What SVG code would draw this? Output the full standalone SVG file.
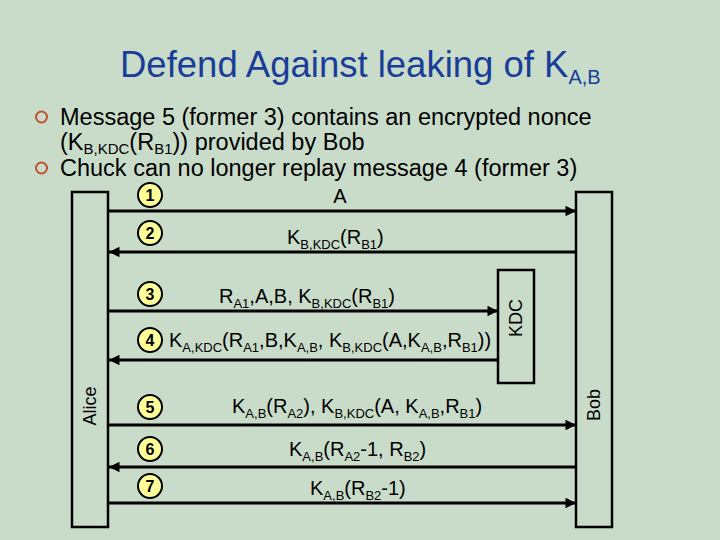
<svg xmlns="http://www.w3.org/2000/svg" width="720" height="540" viewBox="0 0 720 540">
<style>
.t{font-family:"Liberation Sans",Arial,sans-serif;fill:#000}
.title{font-family:"Liberation Sans",Arial,sans-serif;fill:#1a3d99;font-size:36.5px}
.bul{font-size:23.5px}
.bs{font-size:15px}
.lbl{font-size:20px}
.s{font-size:13px}
.num{font-family:"Liberation Sans",Arial,sans-serif;font-size:16px;font-weight:bold;text-anchor:middle;fill:#000}
.box{fill:none;stroke:#000;stroke-width:2.5}
.ln{stroke:#000;stroke-width:3;fill:none}
.c{fill:#ffff99;stroke:#000;stroke-width:2}
.b{fill:none;stroke:#c0502e;stroke-width:2}
.who{font-family:"Liberation Sans",Arial,sans-serif;font-size:18px;text-anchor:middle;fill:#000}
</style>
<defs>
<marker id="ah" viewBox="0 0 10 10" refX="10" refY="5" markerWidth="4.2" markerHeight="3.5" orient="auto" markerUnits="strokeWidth">
<path d="M0,0 L10,5 L0,10 z" fill="#000"/>
</marker>
</defs>
<rect width="720" height="540" fill="#c9dcc9"/>
<text class="title" x="120" y="77">Defend Against leaking of K<tspan style="font-size:20px" dy="7">A,B</tspan></text>
<g id="bullets">
<circle class="b" cx="41.5" cy="117" r="5.5"/>
<circle class="b" cx="41.5" cy="168" r="5.5"/>
<text class="t bul" x="60" y="125">Message 5 (former 3) contains an encrypted nonce</text>
<text class="t bul" x="60" y="150">(K<tspan class="bs" dy="4">B,KDC</tspan><tspan dy="-4">(R</tspan><tspan class="bs" dy="4">B1</tspan><tspan dy="-4">)) provided by Bob</tspan></text>
<text class="t bul" x="60" y="176">Chuck can no longer replay message 4 (former 3)</text>
</g>
<g id="alice"><rect class="box" x="72" y="192" width="36" height="335"/><text class="who" transform="translate(96,406) rotate(-90)">Alice</text></g>
<g id="bob"><rect class="box" x="576" y="192" width="36" height="335"/><text class="who" transform="translate(600,405) rotate(-90)">Bob</text></g>
<g id="kdc"><rect class="box" x="498" y="270" width="36" height="113"/><text class="who" transform="translate(522,318) rotate(-90)">KDC</text></g>
<g id="connectors">
<line class="ln" x1="109" y1="211" x2="576" y2="211" marker-end="url(#ah)"/>
<line class="ln" x1="576" y1="252" x2="109" y2="252" marker-end="url(#ah)"/>
<line class="ln" x1="109" y1="311" x2="498" y2="311" marker-end="url(#ah)"/>
<line class="ln" x1="498" y1="360" x2="109" y2="360" marker-end="url(#ah)"/>
<line class="ln" x1="109" y1="425" x2="576" y2="425" marker-end="url(#ah)"/>
<line class="ln" x1="576" y1="467" x2="109" y2="467" marker-end="url(#ah)"/>
<line class="ln" x1="109" y1="503" x2="576" y2="503" marker-end="url(#ah)"/>
</g>
<g id="steps">
<circle class="c" cx="150" cy="195" r="12"/><text class="num" x="150" y="200.5">1</text>
<circle class="c" cx="150" cy="233" r="12"/><text class="num" x="150" y="238.5">2</text>
<circle class="c" cx="150" cy="294" r="12"/><text class="num" x="150" y="299.5">3</text>
<circle class="c" cx="150" cy="340" r="12"/><text class="num" x="150" y="345.5">4</text>
<circle class="c" cx="150" cy="407" r="12"/><text class="num" x="150" y="412.5">5</text>
<circle class="c" cx="150" cy="449" r="12"/><text class="num" x="150" y="454.5">6</text>
<circle class="c" cx="150" cy="486" r="12"/><text class="num" x="150" y="491.5">7</text>
</g>
<g id="labels">
<text class="t lbl" x="340" y="203" text-anchor="middle">A</text>
<text class="t lbl" x="287" y="244">K<tspan class="s" dy="5">B,KDC</tspan><tspan dy="-5">(R</tspan><tspan class="s" dy="5">B1</tspan><tspan dy="-5">)</tspan></text>
<text class="t lbl" x="219" y="303">R<tspan class="s" dy="5">A1</tspan><tspan dy="-5">,A,B, K</tspan><tspan class="s" dy="5">B,KDC</tspan><tspan dy="-5">(R</tspan><tspan class="s" dy="5">B1</tspan><tspan dy="-5">)</tspan></text>
<text class="t lbl" x="169" y="347">K<tspan class="s" dy="5">A,KDC</tspan><tspan dy="-5">(R</tspan><tspan class="s" dy="5">A1</tspan><tspan dy="-5">,B,K</tspan><tspan class="s" dy="5">A,B</tspan><tspan dy="-5">, K</tspan><tspan class="s" dy="5">B,KDC</tspan><tspan dy="-5">(A,K</tspan><tspan class="s" dy="5">A,B</tspan><tspan dy="-5">,R</tspan><tspan class="s" dy="5">B1</tspan><tspan dy="-5">))</tspan></text>
<text class="t lbl" x="232" y="413">K<tspan class="s" dy="5">A,B</tspan><tspan dy="-5">(R</tspan><tspan class="s" dy="5">A2</tspan><tspan dy="-5">), K</tspan><tspan class="s" dy="5">B,KDC</tspan><tspan dy="-5">(A, K</tspan><tspan class="s" dy="5">A,B</tspan><tspan dy="-5">,R</tspan><tspan class="s" dy="5">B1</tspan><tspan dy="-5">)</tspan></text>
<text class="t lbl" x="289" y="456">K<tspan class="s" dy="5">A,B</tspan><tspan dy="-5">(R</tspan><tspan class="s" dy="5">A2</tspan><tspan dy="-5">-1, R</tspan><tspan class="s" dy="5">B2</tspan><tspan dy="-5">)</tspan></text>
<text class="t lbl" x="310" y="495">K<tspan class="s" dy="5">A,B</tspan><tspan dy="-5">(R</tspan><tspan class="s" dy="5">B2</tspan><tspan dy="-5">-1)</tspan></text>
</g>
</svg>
